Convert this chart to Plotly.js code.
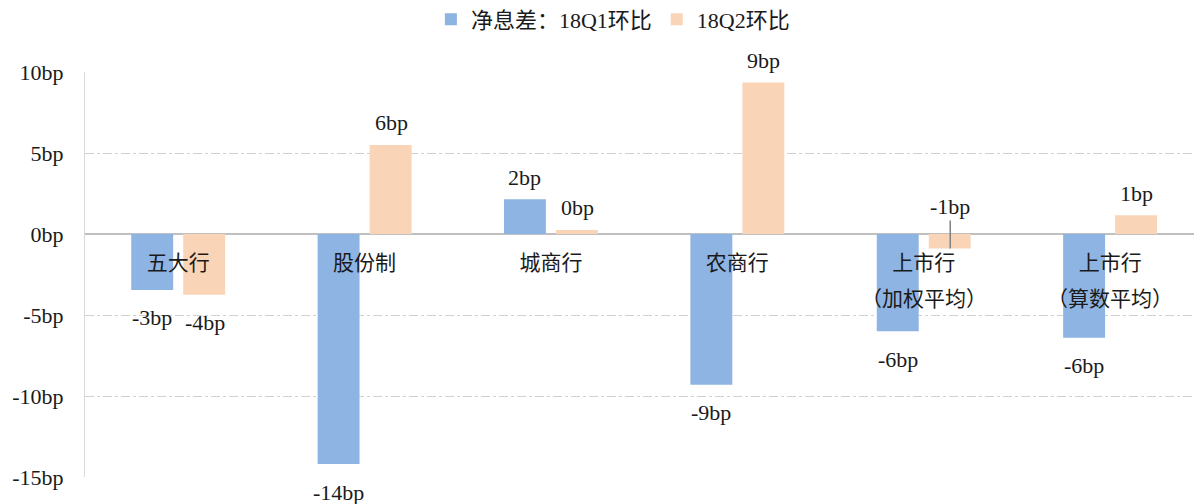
<!DOCTYPE html>
<html>
<head>
<meta charset="utf-8">
<script src="https://cdn.plot.ly/plotly-3.0.1.min.js"></script>
<style>
  html, body { margin: 0; padding: 0; background: #fff; }
  #chart { width: 1201px; height: 504px; }
</style>
</head>
<body>
<div id="chart"></div>
<script>
// ---- data ----
const categories = ['五大行', '股份制', '城商行', '农商行', '上市行（加权平均）', '上市行（算数平均）'];
const catLine1 = ['五大行', '股份制', '城商行', '农商行', '上市行', '上市行'];
const catLine2 = ['', '', '', '', '（加权平均）', '（算数平均）'];
const seriesNames = ['净息差：18Q1环比', '18Q2环比'];
const q1Values = [-3.45, -14.2, 2.15, -9.3, -6.0, -6.4];
const q2Values = [-3.75, 5.5, 0.25, 9.35, -0.9, 1.15];
const q1Labels = ['-3bp', '-14bp', '2bp', '-9bp', '-6bp', '-6bp'];
const q2Labels = ['-4bp', '6bp', '0bp', '9bp', '-1bp', '1bp'];
const yTickVals = [-15, -10, -5, 0, 5, 10];
const yTickText = ['-15bp', '-10bp', '-5bp', '0bp', '5bp', '10bp'];

// ---- style ----
const blue = '#8EB4E3';
const orange = '#FAD4B6';
const latinFont = '"Liberation Serif", "Times New Roman", serif';
const mixedFont = '"Liberation Serif", "Noto Sans CJK SC", serif';
const cjkFont = '"Noto Sans CJK SC", sans-serif';
const textColor = '#1a1a1a';
const barWidth = 0.225;

const traces = [
  {
    type: 'bar', name: seriesNames[0], x: categories, y: q1Values,
    width: barWidth, offset: -0.252,
    marker: { color: blue }, hoverinfo: 'skip'
  },
  {
    type: 'bar', name: seriesNames[1], x: categories, y: q2Values,
    width: barWidth, offset: 0.027,
    marker: { color: orange }, hoverinfo: 'skip'
  }
];

const annotations = [];
function addLabels(values, labels, xshift) {
  values.forEach((v, i) => {
    const smallNeg = v < 0 && Math.abs(v) < 2;
    if (smallNeg) {
      annotations.push({
        x: categories[i], y: v, xref: 'x', yref: 'y', xshift: xshift,
        text: labels[i], showarrow: true, arrowhead: 0, arrowwidth: 1.5,
        arrowcolor: '#808080', ax: 0, ay: -42, standoff: 0,
        font: { family: latinFont, size: 22, color: textColor }
      });
    } else {
      annotations.push({
        x: categories[i], y: v, xref: 'x', yref: 'y', xshift: xshift,
        yshift: v >= 0 ? 22 : -28, yanchor: 'middle',
        text: labels[i], showarrow: false,
        font: { family: latinFont, size: 22, color: textColor }
      });
    }
  });
}
addLabels(q1Values, q1Labels, -26);
addLabels(q2Values, q2Labels, 26.5);

// second line of the category labels
catLine2.forEach((t, i) => {
  if (!t) return;
  annotations.push({
    x: categories[i], y: 0, xref: 'x', yref: 'y',
    yshift: -63, yanchor: 'middle', text: t, showarrow: false,
    font: { family: cjkFont, size: 21, color: textColor }
  });
});

const layout = {
  width: 1201, height: 504,
  margin: { l: 85, r: 7, t: 72, b: 27, autoexpand: false },
  paper_bgcolor: '#ffffff', plot_bgcolor: '#ffffff',
  barmode: 'overlay',
  showlegend: true,
  legend: {
    orientation: 'h', x: 0.476, xanchor: 'center', y: 1.13, yanchor: 'middle',
    font: { family: mixedFont, size: 22, color: textColor },
    itemwidth: 30, tracegroupgap: 0
  },
  xaxis: {
    type: 'category', range: [-0.5, 5.45],
    tickvals: categories, ticktext: catLine1,
    anchor: 'free', position: 0.6,
    showgrid: false, zeroline: false, showline: false, ticks: '',
    tickfont: { family: cjkFont, size: 21, color: textColor },
    ticklabelstandoff: 14,
    fixedrange: true
  },
  yaxis: {
    range: [-15, 10], tickvals: yTickVals, ticktext: yTickText,
    showgrid: true, gridcolor: '#d0d0d0', griddash: 'dashdot', gridwidth: 1,
    zeroline: true, zerolinecolor: '#c0c0c0', zerolinewidth: 2,
    showline: true, linecolor: '#d9d9d9', linewidth: 1,
    ticks: '', ticklabelstandoff: 16,
    tickfont: { family: latinFont, size: 22, color: textColor },
    fixedrange: true
  },
  annotations: annotations
};

Plotly.newPlot('chart', traces, layout, { displayModeBar: false, staticPlot: true });
</script>
</body>
</html>
